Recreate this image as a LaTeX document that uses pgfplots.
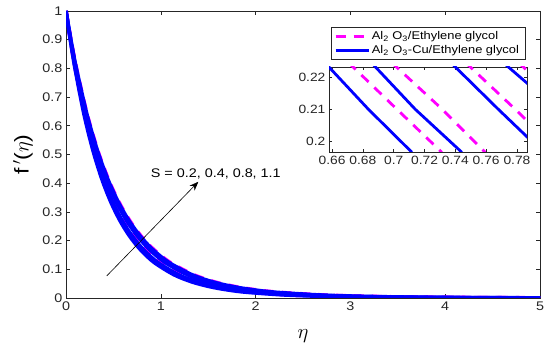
\documentclass[border=0pt]{standalone}
\usepackage{fontspec}
\setmainfont{Liberation Sans}[FakeStretch=1.15]
\usepackage{pgfplots}
\pgfplotsset{compat=1.18}
\usepackage{pgfplotstable}
\usetikzlibrary{arrows.meta}
\definecolor{mblue}{RGB}{0,0,255}
\definecolor{mmag}{RGB}{255,0,255}
\definecolor{axgray}{RGB}{38,38,38}

% f' values shared by all curves; e1..e8 are the eta positions of each curve
% e1=b1, e2=m1, e3=b2, e4=m2, e5=b3, e6=m3, e7=b4, e8=m4
\pgfplotstableread{
f e1 e2 e3 e4 e5 e6 e7 e8
1.0000 0 0 0 0 0 0 0 0
0.8933 0.0475 0.0488 0.0497 0.0509 0.0534 0.0542 0.0556 0.0563
0.7983 0.0951 0.0977 0.0993 0.1017 0.1068 0.1083 0.1112 0.1126
0.6387 0.1901 0.1953 0.1986 0.2035 0.2137 0.2167 0.2225 0.2252
0.5123 0.2852 0.2930 0.2979 0.3052 0.3205 0.3250 0.3337 0.3378
0.4118 0.3802 0.3906 0.3972 0.4069 0.4274 0.4334 0.4449 0.4504
0.3320 0.4753 0.4883 0.4965 0.5087 0.5342 0.5417 0.5562 0.5631
0.2684 0.5704 0.5860 0.5958 0.6104 0.6410 0.6500 0.6674 0.6757
0.2178 0.6654 0.6836 0.6951 0.7121 0.7479 0.7584 0.7786 0.7883
0.1771 0.7605 0.7813 0.7944 0.8138 0.8547 0.8667 0.8898 0.9009
0.1446 0.8555 0.8789 0.8937 0.9156 0.9616 0.9751 1.0011 1.0135
0.1186 0.9506 0.9766 0.9930 1.0173 1.0684 1.0834 1.1123 1.1261
0.0805 1.1407 1.1719 1.1916 1.2208 1.2821 1.3001 1.3348 1.3513
0.0555 1.3308 1.3672 1.3902 1.4242 1.4958 1.5168 1.5572 1.5765
0.0389 1.5210 1.5626 1.5888 1.6277 1.7094 1.7334 1.7797 1.8018
0.0276 1.7111 1.7579 1.7874 1.8311 1.9231 1.9501 2.0021 2.0270
0.0199 1.9012 1.9532 1.9860 2.0346 2.1368 2.1668 2.2246 2.2522
0.0108 2.2814 2.3438 2.3832 2.4415 2.5642 2.6002 2.6695 2.7026
0.0061 2.6617 2.7345 2.7804 2.8484 2.9915 3.0335 3.1144 3.1531
0.0035 3.0419 3.1251 3.1776 3.2554 3.4189 3.4669 3.5594 3.6035
0.0021 3.4222 3.5158 3.5748 3.6623 3.8462 3.9002 4.0043 4.0540
0.0012 3.8024 3.9064 3.9720 4.0692 4.2736 4.3336 4.4492 4.5044
0.0007 4.2777 4.3947 4.4685 4.5779 4.8078 4.8753 5.0054 5.0675
0.0004 4.7530 4.8830 4.9650 5.0865 5.3420 5.4170 5.5615 5.6305
0.0002 5.4184 5.5666 5.6601 5.7986 6.0899 6.1754 6.3401 6.4188
}\curves

\pgfplotsset{
  mstyle/.style={axgray, line width=0.6pt,
    tick align=inside, xtick pos=both, ytick pos=both,
    major tick length=4pt,
    tick style={axgray, line width=0.6pt},
    ticklabel style={text=axgray},
    /pgf/number format/assume math mode=true},
}

\begin{document}
\begin{tikzpicture}
\begin{axis}[name=main, mstyle,
  scale only axis, width=474pt, height=287pt,
  xmin=0, xmax=5, ymin=0, ymax=1,
  xtick={0,1,2,3,4,5},
  ytick={0,0.1,0.2,0.3,0.4,0.5,0.6,0.7,0.8,0.9,1},
  yticklabel style={/pgf/number format/.cd, fixed, precision=1},
  font=\fontsize{12.5}{14}\selectfont,
  xlabel={$\eta$},
  xlabel style={font=\fontsize{20}{22}\selectfont, at={(axis description cs:0.5,0)}, anchor=center, yshift=-38pt, text=black},
  ylabel={f\,$^{\prime}$($\eta$)},
  ylabel style={font=\fontsize{20}{22}\selectfont, at={(axis description cs:0,0.5)}, anchor=center, yshift=43pt, text=black},
]
\addplot[mmag, line width=3.5pt, dash pattern=on 10pt off 8pt, smooth] table[x=e2, y=f] {\curves};
\addplot[mmag, line width=3.5pt, dash pattern=on 10pt off 8pt, smooth] table[x=e4, y=f] {\curves};
\addplot[mmag, line width=3.5pt, dash pattern=on 10pt off 8pt, smooth] table[x=e6, y=f] {\curves};
\addplot[mmag, line width=3.5pt, dash pattern=on 10pt off 8pt, smooth] table[x=e8, y=f] {\curves};
\addplot[mblue, line width=3.5pt, smooth] table[x=e1, y=f] {\curves};
\addplot[mblue, line width=3.5pt, smooth] table[x=e3, y=f] {\curves};
\addplot[mblue, line width=3.5pt, smooth] table[x=e5, y=f] {\curves};
\addplot[mblue, line width=3.5pt, smooth] table[x=e7, y=f] {\curves};
\draw[black, line width=0.6pt, -{Stealth[length=9pt, width=7pt]}] (axis cs:0.43,0.077) -- (axis cs:1.396,0.405);
\node[text=black, font=\fontsize{12.5}{14}\selectfont] at (axis cs:1.58,0.434) {S = 0.2, 0.4, 0.8, 1.1};
\end{axis}

\begin{axis}[name=inset, mstyle,
  at={(main.south west)}, anchor=south west, xshift=263pt, yshift=146pt,
  scale only axis, width=198pt, height=85pt,
  axis background/.style={fill=white},
  xmin=0.658, xmax=0.7865, ymin=0.1967, ymax=0.2231,
  xtick={0.66,0.68,0.70,0.72,0.74,0.76,0.78},
  ytick={0.2,0.21,0.22},
  major tick length=3pt,
  xticklabel style={/pgf/number format/.cd, fixed, precision=2},
  yticklabel style={/pgf/number format/.cd, fixed, precision=2},
  font=\fontsize{12}{13}\selectfont,
  legend style={at={(0.5,1)}, anchor=south, yshift=7pt, draw=axgray, line width=0.6pt,
    fill=white, font=\fontsize{11.2}{13}\selectfont, text=black, inner xsep=3pt, inner ysep=2.5pt,
    row sep=0.5pt},
  legend cell align=left,
  legend image code/.code={\draw[#1, line width=2.8pt] (0pt,0pt) -- (33pt,0pt);},
]
\addplot[mmag, line width=2.8pt, dash pattern=on 10pt off 8pt] coordinates {(0.6706,0.2245) (0.702,0.21) (0.7312,0.1966)};
\addlegendentry{\makebox[148pt][l]{Al\textsubscript{2} O\textsubscript{3}/Ethylene glycol}}
\addplot[mblue, line width=2.8pt] coordinates {(0.6854,0.2245) (0.7139,0.21) (0.7442,0.1966)};
\addlegendentry{\makebox[148pt][l]{Al\textsubscript{2} O\textsubscript{3}-Cu/Ethylene glycol}}
\addplot[mblue, line width=2.8pt, forget plot] coordinates {(0.655,0.2246) (0.6835,0.21) (0.7118,0.1966)};
\addplot[mblue, line width=2.8pt, forget plot] coordinates {(0.737,0.2245) (0.7678,0.21) (0.797,0.1966)};
\addplot[mblue, line width=2.8pt, forget plot] coordinates {(0.771,0.2245) (0.7865,0.2181) (0.80,0.2125)};
\addplot[mmag, line width=2.8pt, dash pattern=on 10pt off 8pt, forget plot] coordinates {(0.6986,0.2245) (0.7314,0.21) (0.7594,0.1966)};
\addplot[mmag, line width=2.8pt, dash pattern=on 10pt off 8pt, forget plot] coordinates {(0.7466,0.2245) (0.7788,0.21) (0.8075,0.1966)};
\addplot[mmag, line width=2.8pt, dash pattern=on 10pt off 8pt, forget plot] coordinates {(0.781,0.2245) (0.790,0.2204) (0.800,0.2160)};
\end{axis}
\pgfresetboundingbox
\path ([xshift=-66pt,yshift=-54pt]main.south west) rectangle ([xshift=10pt,yshift=11pt]main.north east);
\end{tikzpicture}
\end{document}
